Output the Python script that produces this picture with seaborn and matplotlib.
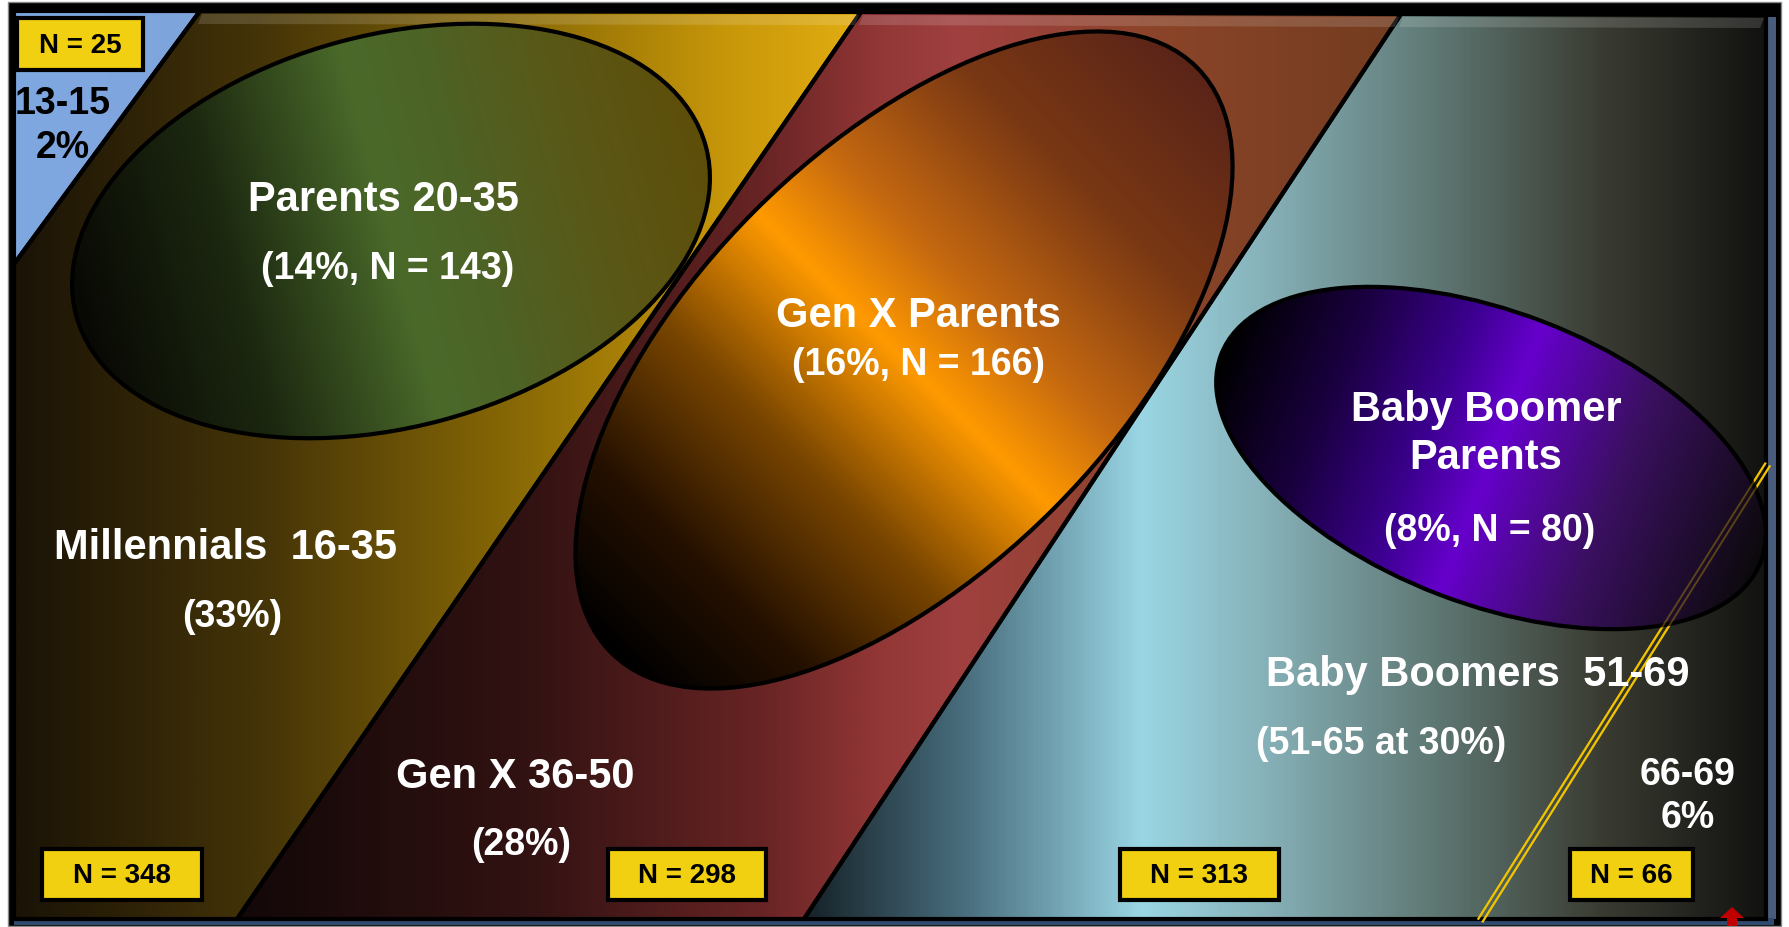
import numpy as np
import matplotlib
matplotlib.use("Agg")
import matplotlib.pyplot as plt
import seaborn as sns
from matplotlib.patches import Polygon, Ellipse, Rectangle
from matplotlib.colors import LinearSegmentedColormap

# ---------------- data ----------------
teen_age, teen_pct, teen_n = "13-15", 2, 25
gen_names = ["Millennials", "Gen X", "Baby Boomers"]
gen_ages = ["16-35", "36-50", "51-69"]
gen_pct_labels = ["(33%)", "(28%)", "(51-65 at 30%)"]
gen_n = [348, 298, 313]
senior_age, senior_pct, senior_n = "66-69", 6, 66
parent_names = ["Parents 20-35", "Gen X Parents", "Baby Boomer\nParents"]
parent_pct = [14, 16, 8]
parent_n = [143, 166, 80]

sns.set_theme(style="white")
plt.rcParams["font.family"] = ["Liberation Sans", "DejaVu Sans"]

W, H = 1789, 928
fig = plt.figure(figsize=(W / 100, H / 100), dpi=100)
ax = fig.add_axes([0, 0, 1, 1])
ax.set_xlim(0, W)
ax.set_ylim(H, 0)
ax.axis("off")
fig.patch.set_facecolor("white")


def hgrad(poly, stops, z):
    xs = [p[0] for p in poly]
    ys = [p[1] for p in poly]
    x0, x1, y0, y1 = min(xs), max(xs), min(ys), max(ys)
    patch = Polygon(poly, closed=True, facecolor="none", edgecolor="none", zorder=z)
    ax.add_patch(patch)
    cmap = LinearSegmentedColormap.from_list("g", stops)
    t = np.linspace(0, 1, 600)[None, :]
    im = ax.imshow(t, cmap=cmap, extent=(x0, x1, y1, y0), aspect="auto",
                   interpolation="bilinear", zorder=z, vmin=0, vmax=1)
    im.set_clip_path(patch)
    edge = Polygon(poly, closed=True, facecolor="none", edgecolor="black", lw=3, zorder=z + 0.2)
    ax.add_patch(edge)
    return patch


def ellgrad(cx, cy, a, b, ang, stops, z, alpha=1.0):
    e = Ellipse((cx, cy), 2 * a, 2 * b, angle=ang, facecolor="none", edgecolor="none", zorder=z)
    ax.add_patch(e)
    r = max(a, b) + 5
    xs = np.linspace(cx - r, cx + r, 500)
    ys = np.linspace(cy - r, cy + r, 500)
    X, Y = np.meshgrid(xs, ys)
    th = np.deg2rad(ang)
    ux, uy = np.cos(th), np.sin(th)
    t = ((X - cx) * ux + (Y - cy) * uy) / (2 * a) + 0.5
    t = np.clip(t, 0, 1)
    cmap = LinearSegmentedColormap.from_list("e", stops)
    im = ax.imshow(t, cmap=cmap, extent=(cx - r, cx + r, cy + r, cy - r), aspect="auto",
                   interpolation="bilinear", zorder=z, vmin=0, vmax=1, alpha=alpha)
    im.set_clip_path(e)
    ax.add_patch(Ellipse((cx, cy), 2 * a, 2 * b, angle=ang, facecolor="none",
                         edgecolor="black", lw=3, zorder=z + 0.2))


# outer frame
ax.add_patch(Rectangle((8, 3), 1773, 924, facecolor="black", edgecolor="#888888", lw=1, zorder=0))
ax.add_patch(Rectangle((1766, 18), 10, 902, facecolor="#4a5c7c", edgecolor="none", zorder=0.5))
ax.add_patch(Rectangle((14, 919), 1760, 7, facecolor="#2f4a6c", edgecolor="none", zorder=0.5))

# bands
b1 = [(14, 12), (200, 12), (14, 265)]
b2 = [(200, 12), (861, 13), (237, 920), (14, 920), (14, 265)]
b3 = [(861, 13), (1401, 15), (804, 920), (237, 920)]
b4 = [(1401, 15), (1766, 16), (1766, 920), (804, 920)]

hgrad(b1, ["#80a8e0", "#7ea4dc"], 1)
hgrad(b2, [(0, "#1a1306"), (0.3, "#463508"), (0.6, "#8a6a05"), (0.85, "#c9980a"), (1, "#e2ad12")], 1)
hgrad(b3, [(0, "#130808"), (0.25, "#321212"), (0.45, "#682424"), (0.55, "#923636"),
           (0.62, "#a04040"), (0.8, "#8a4428"), (1, "#733c20")], 1)
hgrad(b4, [(0, "#162228"), (0.17, "#4a7080"), (0.35, "#9ad6e4"), (0.47, "#88b4bc"),
           (0.65, "#607a76"), (0.83, "#3a3c32"), (1, "#121210")], 1)

# top bevel highlights
for poly in (b2, b3, b4):
    (xa, ya), (xb, yb) = poly[0], poly[1]
    ax.add_patch(Polygon([(xa + 2, ya + 3), (xb - 2, yb + 3), (xb - 6, yb + 13), (xa - 2, ya + 13)],
                         closed=True, facecolor="white", alpha=0.14, edgecolor="none", zorder=1.3))

# double yellow line (behind ellipse, plus faint over)
p0 = np.array([1768, 465.0])
p1 = np.array([1480, 922.0])
d = p1 - p0
n = np.array([-d[1], d[0]]) / np.hypot(*d)
for s in (-2.6, 2.6):
    q0, q1 = p0 + s * n, p1 + s * n
    ax.plot([q0[0], q1[0]], [q0[1], q1[1]], color="#f2c400", lw=1.6, zorder=1.6, solid_capstyle="butt")
    ax.plot([q0[0], q1[0]], [q0[1], q1[1]], color="#f2c400", lw=1.4, alpha=0.3, zorder=3.5, solid_capstyle="butt")

# ellipses
ellgrad(391, 232, 326, 196, -15,
        [(0, "#080804"), (0.25, "#1c2810"), (0.5, "#4a6a2a"), (0.62, "#4d6326"), (0.82, "#5a5716"), (1, "#5e4e0a")], 2)
ellgrad(904, 361, 414, 211, -45,
        [(0, "#000000"), (0.15, "#241000"), (0.33, "#7a4600"), (0.5, "#ff9a00"), (0.62, "#c46810"),
         (0.8, "#7a3814"), (1, "#5a2418")], 2)
ellgrad(1491, 459, 289, 146, 21,
        [(0, "#000000"), (0.2, "#1a0040"), (0.38, "#3c0090"), (0.5, "#6600cc"), (0.72, "#3a1060"),
         (1, "#0c0a0c")], 3)

# text
white = dict(color="white", fontweight="bold", ha="center", va="center", zorder=5)
ax.text(383, 200, parent_names[0], fontsize=30, **white)
ax.text(388, 269, f"({parent_pct[0]}%, N = {parent_n[0]})", fontsize=27, **white)
ax.text(918, 316, parent_names[1], fontsize=30, **white)
ax.text(918, 365, f"({parent_pct[1]}%, N = {parent_n[1]})", fontsize=27, **white)
ax.text(1486, 434, parent_names[2], fontsize=30, linespacing=1.25, **white)
ax.text(1490, 531, f"({parent_pct[2]}%, N = {parent_n[2]})", fontsize=27, **white)

ax.text(226, 548, f"{gen_names[0]}  {gen_ages[0]}", fontsize=30, **white)
ax.text(232, 617, gen_pct_labels[0], fontsize=27, **white)
ax.text(515, 777, f"{gen_names[1]} {gen_ages[1]}", fontsize=30, **white)
ax.text(521, 845, gen_pct_labels[1], fontsize=27, **white)
ax.text(1478, 675, f"{gen_names[2]}  {gen_ages[2]}", fontsize=30, **white)
ax.text(1381, 744, gen_pct_labels[2], fontsize=27, **white)
ax.text(1688, 775, senior_age, fontsize=27, **white)
ax.text(1688, 818, f"{senior_pct}%", fontsize=27, **white)

ax.text(63, 104, teen_age, fontsize=27, color="black", fontweight="bold", ha="center", va="center", zorder=5)
ax.text(63, 148, f"{teen_pct}%", fontsize=27, color="black", fontweight="bold", ha="center", va="center", zorder=5)

# N boxes
boxes = [((17, 19, 143, 71), teen_n), ((42, 850, 202, 901), gen_n[0]), ((608, 850, 766, 901), gen_n[1]),
         ((1120, 850, 1279, 901), gen_n[2]), ((1570, 850, 1693, 901), senior_n)]
for (x0, y0, x1, y1), nval in boxes:
    ax.add_patch(Rectangle((x0, y0), x1 - x0, y1 - y0, facecolor="#f0d010", edgecolor="black", lw=3, zorder=6))
    ax.text((x0 + x1) / 2, (y0 + y1) / 2 + 1, f"N = {nval}", fontsize=20, color="black",
            fontweight="bold", ha="center", va="center", zorder=7)

# small red arrow at bottom right
ax.add_patch(Polygon([(1720, 919), (1732, 908), (1744, 919), (1737, 919), (1737, 927), (1727, 927), (1727, 919)],
                     closed=True, facecolor="#c00000", edgecolor="none", zorder=6))

fig.savefig("out.png", dpi=100)
